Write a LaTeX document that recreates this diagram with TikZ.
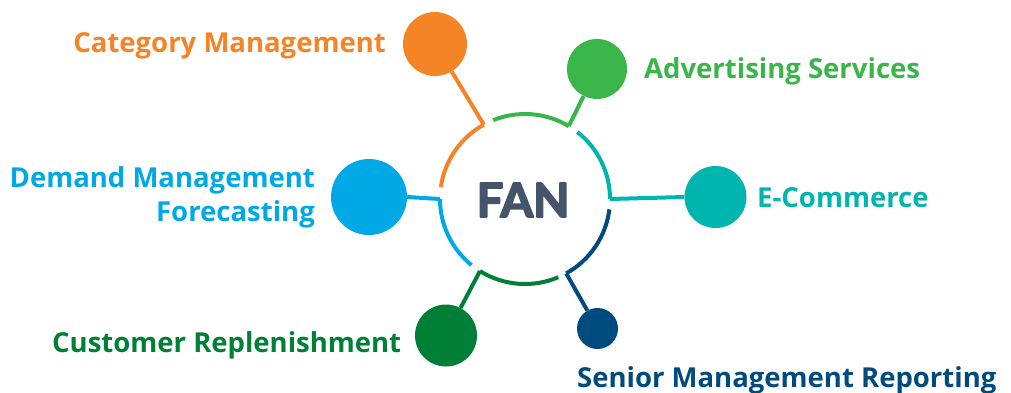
\documentclass[tikz,border=0pt]{standalone}
\usepackage{fontspec}
\setmainfont{Open Sans}
\newfontfamily\fanfont{Lato}
\newcommand\heavytext[1]{\special{pdf:code 2 Tr 1.8 w 1 j}#1\special{pdf:code 0 Tr}}
\usetikzlibrary{calc}
\definecolor{corange}{RGB}{245,132,38}
\definecolor{cgreen}{RGB}{57,181,74}
\definecolor{cteal}{RGB}{0,181,173}
\definecolor{cnavy}{RGB}{0,75,125}
\definecolor{cdgreen}{RGB}{0,128,55}
\definecolor{cblue}{RGB}{0,169,230}
\definecolor{cfan}{RGB}{68,84,106}
\begin{document}
\begin{tikzpicture}[x=1pt,y=1pt,
  bubble/.style={circle,fill=#1,draw=none,inner sep=0pt},
  ring/.style={draw=#1,line width=4pt},
  link/.style={draw=#1,line width=4pt},
  lbl/.style={text=#1,font=\fontsize{27.5}{30}\selectfont\bfseries,inner sep=0pt}]
\useasboundingbox (0,0) rectangle (1011,-392);
\coordinate (c) at (525,-199);
\def\R{85}
% arc end points
\coordinate (oa) at ($(c)+(172:\R)$); \coordinate (ob) at ($(c)+(119:\R)$);
\coordinate (ga) at ($(c)+(112:\R)$); \coordinate (gb) at ($(c)+(59:\R)$);
\coordinate (ta) at ($(c)+(52:\R)$);  \coordinate (tb) at ($(c)+(0:\R)$);
\coordinate (na) at ($(c)+(-7:\R)$);  \coordinate (nb) at ($(c)+(-61:\R)$);
\coordinate (da) at ($(c)+(-67:\R)$); \coordinate (db) at ($(c)+(-122:\R)$);
\coordinate (la) at ($(c)+(-129:\R)$); \coordinate (lb) at ($(c)+(-180:\R)$);
% arcs
\draw[ring=corange] (oa) arc[start angle=172,end angle=119,radius=\R];
\draw[ring=cgreen] (ga) arc[start angle=112,end angle=59,radius=\R];
\draw[ring=cteal] (ta) arc[start angle=52,end angle=0,radius=\R];
\draw[ring=cnavy] (na) arc[start angle=-7,end angle=-61,radius=\R];
\draw[ring=cdgreen] (da) arc[start angle=-67,end angle=-122,radius=\R];
\draw[ring=cblue] (la) arc[start angle=-129,end angle=-180,radius=\R];
% bubbles
\node[bubble=corange,minimum size=64pt] (bo) at (435,-44) {};
\node[bubble=cgreen,minimum size=60pt] (bg) at (597,-69) {};
\node[bubble=cteal,minimum size=62pt] (bt) at (715.5,-197) {};
\node[bubble=cnavy,minimum size=41pt] (bn) at (597.5,-328.5) {};
\node[bubble=cdgreen,minimum size=62pt] (bd) at (446,-335.5) {};
\node[bubble=cblue,minimum size=76pt] (bl) at (369,-197) {};
% connectors
\draw[link=corange] (ob) -- (bo);
\draw[link=cgreen] (gb) -- (bg);
\draw[link=cteal] (tb) -- (bt.west);
\draw[link=cnavy] (nb) -- (bn);
\draw[link=cdgreen] (db) -- (bd);
\draw[link=cblue] (lb) -- (bl.east);
% labels
\node[text=cfan,font=\fanfont\fontsize{47}{50}\selectfont\bfseries,inner sep=0pt,anchor=base] (fan) at (523,-217) {\heavytext{FAN}};
\node[lbl=corange,anchor=base east] (tcat) at (386,-52) {Category Management};
\node[lbl=cgreen,anchor=base west] (tadv) at (644,-78) {Advertising Services};
\node[lbl=cteal,anchor=base west] (tec) at (757,-207) {E-Commerce};
\node[lbl=cblue,anchor=base east] (tdm) at (315,-187) {Demand Management};
\node[lbl=cblue,anchor=base east] (tfc) at (315,-221) {Forecasting};
\node[lbl=cdgreen,anchor=base west] (tcr) at (52,-352) {Customer Replenishment};
\node[lbl=cnavy,anchor=base west] (tsm) at (577,-387) {Senior Management Reporting};
\end{tikzpicture}
\end{document}
